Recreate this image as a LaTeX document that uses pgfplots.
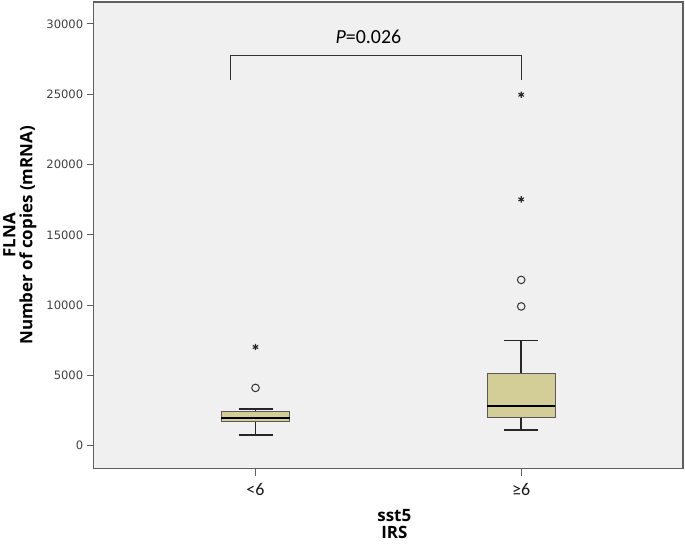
\documentclass[border=0pt]{standalone}
\usepackage{fontspec}
\setmainfont{DejaVu Sans}
\newfontfamily\calfont{Carlito}
\newfontfamily\labfont{Open Sans}
\usepackage{pgfplots}
\pgfplotsset{compat=1.18}
\definecolor{boxfill}{RGB}{211,206,151}
\definecolor{bg}{RGB}{240,240,240}
\definecolor{framec}{RGB}{95,95,95}
\begin{document}
\begin{tikzpicture}
\begin{axis}[
  scale only axis, width=591pt, height=468pt,
  xmin=-0.609, xmax=1.609, ymin=-1631, ymax=31560,
  axis background/.style={fill=bg},
  axis line style={draw=framec, line width=1.2pt},
  xtick={0,1}, xticklabels={<6,≥6},
  ytick={0,5000,10000,15000,20000,25000,30000},
  scaled y ticks=false,
  /pgf/number format/1000 sep={},
  /pgf/number format/assume math mode=true,
  xtick pos=bottom, ytick pos=left,
  tick align=outside,
  major tick length=7pt,
  x tick style={draw=framec, line width=1pt},
  y tick style={draw=framec, line width=1pt},
  x tick label style={font=\fontsize{18}{20}\selectfont\calfont, text=black!90, yshift=-4pt},
  y tick label style={font=\fontsize{11.6}{13}\selectfont, text=black!75},
  ylabel={FLNA\\Number of copies (mRNA)},
  ylabel style={at={(axis description cs:0,0.5)}, anchor=center, yshift=74pt, align=center, font=\labfont\bfseries\fontsize{17}{17}\selectfont},
  xlabel={sst5\\IRS},
  xlabel style={at={(axis description cs:0.5,0)}, anchor=center, yshift=-56pt, xshift=6pt, align=center, font=\labfont\bfseries\fontsize{17}{17}\selectfont},
  clip=false,
]
% whiskers (stems and caps)
\addplot[black!85, line width=1.5pt] coordinates {(0,780) (0,1702)};
\addplot[black!85, line width=1.5pt] coordinates {(0,2411) (0,2624)};
\addplot[black!85, line width=1.5pt] coordinates {(-0.064,780) (0.064,780)};
\addplot[black!85, line width=1.5pt] coordinates {(-0.064,2624) (0.064,2624)};
\addplot[black!85, line width=1.5pt] coordinates {(1,1113) (1,2007)};
\addplot[black!85, line width=1.5pt] coordinates {(1,5106) (1,7496)};
\addplot[black!85, line width=1.5pt] coordinates {(0.936,1113) (1.064,1113)};
\addplot[black!85, line width=1.5pt] coordinates {(0.936,7496) (1.064,7496)};
% boxes
\addplot[fill=boxfill, draw=black!65, line width=1pt] coordinates {(-0.128,1702) (0.128,1702) (0.128,2411) (-0.128,2411)} -- cycle;
\addplot[fill=boxfill, draw=black!65, line width=1pt] coordinates {(0.872,2007) (1.128,2007) (1.128,5106) (0.872,5106)} -- cycle;
% medians
\addplot[black, line width=2pt] coordinates {(-0.128,1986) (0.128,1986)};
\addplot[black, line width=2pt] coordinates {(0.872,2858) (1.128,2858)};
% outliers
\addplot[only marks, mark=o, mark size=3.8pt, draw=black!80, line width=1pt] coordinates {(0,4113) (1,11794) (1,9908)};
\addplot[only marks, mark=asterisk, mark size=3.2pt, draw=black!85, line width=1.1pt] coordinates {(0,7021) (1,24965) (1,17518)};
% significance bracket
\addplot[black!80, line width=1pt] coordinates {(-0.094,26030) (-0.094,27730) (1,27730) (1,26030)};
\node[font=\calfont\fontsize{20}{22}\selectfont] at (axis cs:0.425,29080) {\textit{P}=0.026};
\end{axis}
\path (-92pt,-77pt) rectangle (593pt,470pt);
\end{tikzpicture}
\end{document}
